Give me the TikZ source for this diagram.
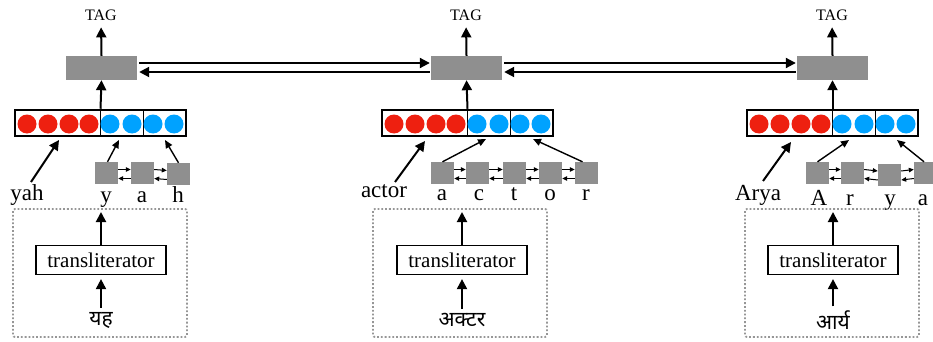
\documentclass[tikz,border=0pt]{standalone}
\usepackage{fontspec}
\setmainfont{Liberation Serif}
\newfontfamily\deva[Script=Devanagari]{Noto Sans}
\usetikzlibrary{arrows.meta,calc}
\definecolor{boxgray}{RGB}{143,143,143}
\definecolor{dotred}{RGB}{238,32,16}
\definecolor{dotblue}{RGB}{0,162,255}
\definecolor{dotgray}{RGB}{150,150,150}
\tikzset{
  gbox/.style={fill=boxgray,draw=none,minimum width=71pt,minimum height=24pt,inner sep=0pt},
  sbox/.style={fill=boxgray,draw=none,minimum width=23pt,minimum height=22pt,inner sep=0pt},
  vecbox/.style={draw=black,line width=2.5pt,minimum width=171pt,minimum height=26pt,inner sep=0pt},
  tagtxt/.style={font=\fontsize{16}{18}\selectfont,inner sep=0pt,anchor=base},
  wordtxt/.style={font=\fontsize{23}{25}\selectfont,inner sep=0pt,anchor=base},
  trbox/.style={draw=black,line width=1.2pt,fill=white,minimum width=130pt,minimum height=29pt,inner sep=0pt,font=\fontsize{21}{23}\selectfont},
  devtxt/.style={font=\deva\fontsize{21}{23}\selectfont,inner sep=0pt},
  dotframe/.style={draw=dotgray,line width=1.8pt,dash pattern=on 1.8pt off 2pt,rounded corners=2pt},
  bigarrow/.style={line width=2pt,-{Triangle[length=10pt,width=10pt]}},
  midarrow/.style={line width=1.4pt,-{Triangle[length=8pt,width=7pt]}},
  smallarrow/.style={line width=1pt,-{Triangle[length=5pt,width=4.5pt]}},
  reddot/.style={circle,fill=dotred,minimum size=19pt,inner sep=0pt},
  bluedot/.style={circle,fill=dotblue,minimum size=19pt,inner sep=0pt},
}
\begin{document}
\begin{tikzpicture}[x=1pt,y=-1pt]
\useasboundingbox (0,0) rectangle (933,342);

% ---------- gray boxes and TAG ----------
\node[gbox] (g1) at (101.5,68) {};
\node[gbox] (g2) at (466.5,68) {};
\node[gbox] (g3) at (832.5,68) {};
\node[tagtxt] (t1) at (101,21) {TAG};
\node[tagtxt] (t2) at (466,21) {TAG};
\node[tagtxt] (t3) at (832,21) {TAG};
\foreach \i in {1,2,3}{
  \draw[bigarrow,shorten >=6pt] (g\i.north) -- (t\i.south);
}
% horizontal arrows
\draw[bigarrow,shorten <=2pt,shorten >=1pt] ([yshift=5pt]g1.east) -- ([yshift=5pt]g2.west);
\draw[bigarrow,shorten <=1pt,shorten >=2pt] ([yshift=-4pt]g2.west) -- ([yshift=-4pt]g1.east);
\draw[bigarrow,shorten <=2pt,shorten >=1pt] ([yshift=5pt]g2.east) -- ([yshift=5pt]g3.west);
\draw[bigarrow,shorten <=1pt,shorten >=2pt] ([yshift=-4pt]g3.west) -- ([yshift=-4pt]g2.east);

% ---------- vectors ----------
\foreach \i/\L in {1/15,2/382,3/747}{
  \node[vecbox] (v\i) at (\L+85.5,123) {};
  \draw[line width=1pt] (\L+85,111) -- (\L+85,135);
  \draw[line width=1pt] (\L+128,111) -- (\L+128,135);
  \foreach \k/\dx in {a/12,b/33,c/54,d/74}{
    \node[reddot] (r\i\k) at (\L+\dx,124) {};
  }
  \foreach \k/\dx in {a/95,b/117,c/138,d/159}{
    \node[bluedot] (b\i\k) at (\L+\dx,124) {};
  }
  \draw[bigarrow] (v\i.north) -- (g\i.south);
}

% ---------- panel 1 characters ----------
\node[sbox] (p1a) at (106.5,173) {};
\node[sbox] (p1b) at (142.5,173) {};
\node[sbox] (p1c) at (178.5,174) {};
\node[wordtxt] (l1a) at (106,202) {y};
\node[wordtxt] (l1b) at (142,202) {a};
\node[wordtxt] (l1c) at (178,202) {h};
\node[wordtxt] (w1) at (27,200) {yah};
\coordinate (w1s) at (31,182);
\coordinate (v1w) at (59,140);
\coordinate (v1a) at (119,140);
\coordinate (v1b) at (165,140);
\draw[bigarrow] (w1s) -- (v1w);
\draw[midarrow] ([xshift=1pt]p1a.north) -- (v1a);
\draw[midarrow] (p1c.north) -- (v1b);
\foreach \a/\b in {p1a/p1b,p1b/p1c}{
  \draw[smallarrow] ([yshift=3.5pt]\a.east) -- ([yshift=3.5pt]\b.west);
  \draw[smallarrow] ([yshift=-5.5pt]\b.west) -- ([yshift=-5.5pt]\a.east);
}

% ---------- panel 2 characters ----------
\node[sbox] (p2a) at (442.5,173) {};
\node[sbox] (p2b) at (477.5,173) {};
\node[sbox] (p2c) at (514.5,173) {};
\node[sbox] (p2d) at (550.5,173) {};
\node[sbox] (p2e) at (586.5,173) {};
\node[wordtxt] (l2a) at (442,200) {a};
\node[wordtxt] (l2b) at (479,200) {c};
\node[wordtxt] (l2c) at (514,200) {t};
\node[wordtxt] (l2d) at (550,200) {o};
\node[wordtxt] (l2e) at (586,200) {r};
\node[wordtxt] (w2) at (384,197) {actor};
\coordinate (w2s) at (395,182);
\coordinate (v2w) at (425,141);
\coordinate (v2a) at (486,139);
\coordinate (v2b) at (533,139);
\draw[bigarrow] (w2s) -- (v2w);
\draw[midarrow] (p2a.north) -- (v2a);
\draw[midarrow] ([xshift=-4pt]p2e.north) -- (v2b);
\foreach \a/\b in {p2a/p2b,p2b/p2c,p2c/p2d,p2d/p2e}{
  \draw[smallarrow] ([yshift=3.5pt]\a.east) -- ([yshift=3.5pt]\b.west);
  \draw[smallarrow] ([yshift=-5.5pt]\b.west) -- ([yshift=-5.5pt]\a.east);
}

% ---------- panel 3 characters ----------
\node[sbox] (p3a) at (817.5,173) {};
\node[sbox] (p3b) at (852.5,173) {};
\node[sbox] (p3c) at (889.5,174.5) {};
\node[sbox] (p3d) at (925.5,173) {};
\node[wordtxt] (l3a) at (819,205) {A};
\node[wordtxt] (l3b) at (850,205) {r};
\node[wordtxt] (l3c) at (890,205) {y};
\node[wordtxt] (l3d) at (923,205) {a};
\node[wordtxt] (w3) at (758,200) {Arya};
\coordinate (w3s) at (763,181);
\coordinate (v3w) at (791,142);
\coordinate (v3a) at (849,140);
\coordinate (v3b) at (897,140);
\draw[bigarrow] (w3s) -- (v3w);
\draw[midarrow] (p3a.north) -- (v3a);
\draw[midarrow] ([xshift=-1.5pt]p3d.north) -- (v3b);
\foreach \a/\b in {p3a/p3b,p3b/p3c,p3c/p3d}{
  \draw[smallarrow] ([yshift=3.5pt]\a.east) -- ([yshift=3.5pt]\b.west);
  \draw[smallarrow] ([yshift=-5.5pt]\b.west) -- ([yshift=-5.5pt]\a.east);
}

% ---------- transliterator panels ----------
\foreach \i/\xl/\xc/\hin in {1/13/101/{यह},2/373/462/{अक्टर},3/745/833/{आर्य}}{
  \draw[dotframe] (\xl,209) rectangle (\xl+174,337);
  \node[trbox] (tr\i) at (\xc,260) {transliterator};
  \node[devtxt] (h\i) at (\xc,320) {\hin};
  \coordinate (top\i) at (\xc,212);
  \draw[bigarrow] (tr\i.north) -- (top\i);
  \draw[bigarrow,shorten <=4pt,shorten >=4pt] (h\i.north) -- (tr\i.south);
}
\end{tikzpicture}
\end{document}
